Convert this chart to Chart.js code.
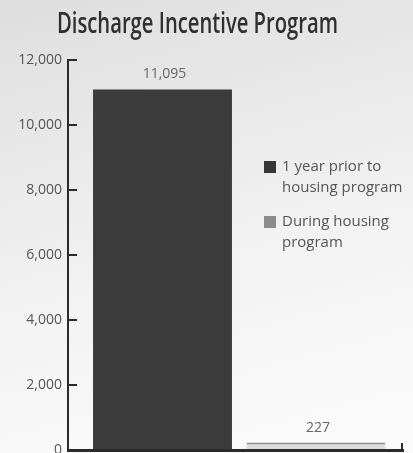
<!DOCTYPE html>
<html>
<head>
<meta charset="utf-8">
<script src="https://cdn.jsdelivr.net/npm/chart.js@4"></script>
<style>
  html, body { margin: 0; padding: 0; }
  body {
    width: 413px; height: 453px; overflow: hidden;
    background: linear-gradient(165deg, #dedede 0%, #e7e7e7 25%, #f2f2f2 55%, #f8f8f8 80%, #fbfbfb 100%);
  }
  #wrap { position: relative; width: 413px; height: 453px; }
</style>
</head>
<body>
<div id="wrap"><canvas id="chart" width="413" height="453"></canvas></div>
<script>
// Chart content
const chartTitle = 'Discharge Incentive Program';
const seriesNames = ['1 year prior to housing program', 'During housing program'];
const seriesValues = [11095, 227];
const barPositions = [0, 1];
const yTickValues = [0, 2000, 4000, 6000, 8000, 10000, 12000];

// Styling
const fillColors = ['#3b3b3b', '#dedede'];
const edgeColors = ['#3b3b3b', '#8e8e8e'];
const swatchColors = ['#363636', '#8c8c8c'];
const inkDark = '#2b2b2b';
const fmt = v => v.toLocaleString('en-US');

const decorations = {
  id: 'decorations',
  afterDraw(chart) {
    const ctx = chart.ctx;
    const y = chart.scales.y;
    const area = chart.chartArea;
    ctx.save();

    // inward tick marks on the value axis
    ctx.strokeStyle = inkDark;
    ctx.lineWidth = 2;
    yTickValues.forEach(v => {
      if (v === 0) return;
      const py = Math.round(y.getPixelForValue(v));
      ctx.beginPath();
      ctx.moveTo(area.left, py);
      ctx.lineTo(area.left + 9, py);
      ctx.stroke();
    });
    // end mark on the category axis
    ctx.beginPath();
    ctx.moveTo(area.right - 1, area.bottom);
    ctx.lineTo(area.right - 1, area.bottom - 7);
    ctx.stroke();

    // value labels above each bar
    ctx.font = '14px "Open Sans"';
    ctx.fillStyle = '#666';
    ctx.textAlign = 'center';
    ctx.textBaseline = 'middle';
    chart.data.datasets.forEach((ds, i) => {
      const bar = chart.getDatasetMeta(i).data[0];
      ctx.fillText(fmt(ds.data[0].y), bar.x + 2, bar.y - 15);
    });

    // heading, narrowed to a condensed width
    ctx.save();
    ctx.font = '600 28px "Open Sans"';
    ctx.fillStyle = '#2f2f2f';
    ctx.textBaseline = 'alphabetic';
    const natural = ctx.measureText(chartTitle).width;
    const squeeze = 281 / natural;
    ctx.translate(197.5, 33);
    ctx.scale(squeeze, 1);
    ctx.fillText(chartTitle, 0, 0);
    ctx.restore();

    // legend inside the plot
    ctx.font = '15px "Open Sans"';
    ctx.textAlign = 'left';
    ctx.textBaseline = 'middle';
    let lineY = 167;
    chart.data.datasets.forEach((ds, i) => {
      const words = ds.label.split(' ');
      const lines = [];
      let cur = '';
      words.forEach(w => {
        const test = cur ? cur + ' ' + w : w;
        if (ctx.measureText(test).width > 128 && cur) { lines.push(cur); cur = w; }
        else cur = test;
      });
      lines.push(cur);
      ctx.fillStyle = swatchColors[i];
      ctx.fillRect(264, lineY - 6, 12, 12);
      ctx.fillStyle = '#555';
      lines.forEach((ln, k) => ctx.fillText(ln, 282, lineY + k * 21));
      lineY += lines.length * 21 + 13;
    });
    ctx.restore();
  }
};

new Chart(document.getElementById('chart'), {
  type: 'bar',
  data: {
    datasets: seriesNames.map((name, i) => ({
      label: name,
      data: [{ x: barPositions[i], y: seriesValues[i] }],
      backgroundColor: fillColors[i],
      borderColor: edgeColors[i],
      borderWidth: i === 1 ? { top: 2, left: 0, right: 0, bottom: 0 } : 0,
      borderSkipped: false,
      categoryPercentage: 1,
      barPercentage: 0.905
    }))
  },
  options: {
    responsive: false,
    animation: false,
    devicePixelRatio: 1,
    layout: { padding: { left: 10, right: 10, top: 60, bottom: 3 } },
    scales: {
      x: {
        type: 'linear',
        offset: false,
        stacked: true,
        min: -0.6156,
        max: 1.5668,
        afterBuildTicks: s => { s.ticks = barPositions.map(v => ({ value: v })); },
        ticks: { display: false },
        grid: { display: false, drawTicks: false },
        border: { display: true, color: inkDark, width: 3, z: 1 }
      },
      y: {
        stacked: true,
        min: 0,
        max: 12000,
        afterBuildTicks: s => { s.ticks = yTickValues.map(v => ({ value: v })); },
        afterFit: s => { s.width = 58; s.paddingBottom = 0; },
        ticks: {
          font: { family: 'Open Sans', size: 14 },
          color: '#555',
          padding: 6,
          callback: v => fmt(v)
        },
        grid: { display: false, drawTicks: false },
        border: { display: true, color: inkDark, width: 2, z: 1 }
      }
    },
    plugins: {
      legend: { display: false },
      tooltip: { enabled: false },
      title: { display: false }
    }
  },
  plugins: [decorations]
});
</script>
</body>
</html>
